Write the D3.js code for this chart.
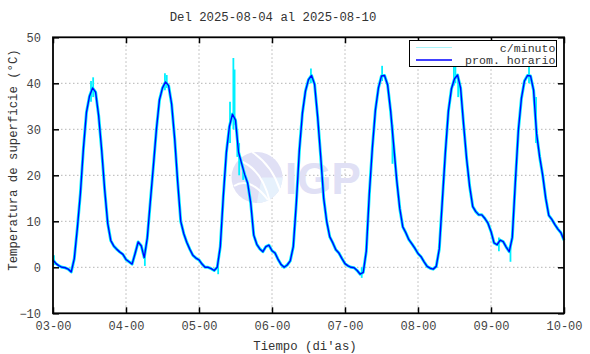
<!DOCTYPE html>
<html>
<head>
<meta charset="utf-8">
<script src="https://cdn.jsdelivr.net/npm/d3@7"></script>
<style>
  body { margin: 0; background: #fff; }
  text { font-family: "Liberation Mono", "DejaVu Sans Mono", monospace; fill: #333; }
</style>
</head>
<body>
<svg id="chart" width="590" height="354"></svg>
<script>
// etiquetas de los dias (eje x), una cada 24 horas
const diasEtiquetas = ["03-00", "04-00", "05-00", "06-00", "07-00", "08-00", "09-00", "10-00"]
const yTicks = [-10, 0, 10, 20, 30, 40, 50]

// promedio horario de temperatura (°C), hora 0 = 03-00
const promHorario = [
  1.6, 0.8, 0.3, 0.0, -0.1, -0.4, -1.0, 1.9, 8.5, 16, 25.8, 33.7, 37.2, 39, 38.1, 33, 25.5, 16.8, 9.5, 5.8, 4.6, 3.9, 3.3, 2.8,
  1.7, 1.2, 0.7, 3.0, 5.5, 4.7, 2.1, 6.4, 14.3, 22, 30, 36.4, 39, 40.3, 39.5, 35.5, 28, 18.5, 10, 7.3, 5.4, 3.9, 2.6, 2.0,
  1.6, 0.7, 0.0, 0.0, -0.3, -0.7, 0.0, 4.5, 15.5, 25, 30.6, 33.3, 32, 25, 22.6, 20.2, 18.3, 14, 7, 5, 4, 3.4, 4.5, 4.8,
  3.6, 3.1, 1.7, 0.6, 0.0, 0.5, 1.4, 4.5, 14, 25.5, 33.5, 38.3, 40.8, 41.7, 39.8, 32.8, 24.2, 15, 9.9, 6.6, 5.3, 3.8, 3.1, 1.9,
  0.8, 0.3, 0.0, -0.1, -0.7, -1.5, -1.1, 3.5, 16, 26, 34.2, 39, 41.6, 41.7, 39.7, 34, 26.5, 19, 12.8, 8.8, 7.5, 6, 5.1, 4.1,
  3.0, 2.3, 1.2, 0.2, -0.2, -0.4, 0.2, 4, 14.5, 25, 34, 38.8, 41, 41.8, 39, 31, 23.5, 17.5, 13.2, 12.1, 11.4, 11.4, 10.6, 9.6,
  7.8, 5.3, 4.9, 5.9, 5.6, 4.4, 3.4, 6.5, 18.5, 29.8, 36.7, 40.5, 41.7, 41.6, 38.5, 29, 24, 20, 15, 11.3, 10.4, 9.3, 8.3, 7.5,
  5.9
]

// excursiones de los datos c/minuto: [hora, minimo, maximo]
const minutoPicos = [
  [0.3, 0.5, 2.6], [12.5, 36, 40.5], [13.2, 37, 41.3], [30.2, 0.3, 3], [36.8, 38.5, 42.2], [37.4, 39, 41.8],
  [54.3, -1.5, 1], [58.2, 27, 36], [59.3, 30, 45.5], [59.7, 31, 43], [60.6, 24, 30], [61.2, 20, 27],
  [62.5, 19, 22], [84.8, 40, 43.2], [101.5, -2.3, 0], [108.2, 40.5, 43.8], [111.6, 22.5, 31],
  [131.8, 39.5, 43.8], [132.3, 40, 44.5], [133.2, 37, 42], [146.6, 3.5, 6.5], [150.4, 1.2, 4.5],
  [156.5, 40, 44.5], [158.8, 27, 37]
]

const svg = d3.select("#chart")
const pLeft = 53, pRight = 564, pTop = 37.3, pBottom = 313.3

const x = d3.scaleLinear().domain([0, 168]).range([pLeft, pRight])
const y = d3.scaleLinear().domain([-10, 50]).range([pBottom, pTop])
const dayTicks = diasEtiquetas.map((d, i) => i * 24)

// grid punteado
svg.append("g").selectAll("line")
  .data(dayTicks.slice(1, -1))
  .enter().append("line")
    .attr("x1", d => x(d)).attr("x2", d => x(d))
    .attr("y1", pTop).attr("y2", pBottom)
    .attr("stroke", "#b4b4b4").attr("stroke-dasharray", "1.5,2.5")
svg.append("g").selectAll("line")
  .data(yTicks.slice(1, -1))
  .enter().append("line")
    .attr("x1", pLeft).attr("x2", pRight)
    .attr("y1", d => y(d)).attr("y2", d => y(d))
    .attr("stroke", "#b4b4b4").attr("stroke-dasharray", "1.5,2.5")

// marca de agua IGP
const wm = svg.append("g")
wm.append("circle").attr("cx", 257).attr("cy", 177.5).attr("r", 25.5).attr("fill", "#e0e0f5")
wm.append("path")
  .attr("d", "M257,203 A25.5,25.5 0 0 0 282.5,177.5 L262,177.5 Q258,195 257,203 Z")
  .attr("fill", "#e6f1fc")
wm.append("path").attr("d", "M234,186 Q250,176 268,200").attr("stroke", "#fff").attr("stroke-width", 2).attr("fill", "none")
wm.append("path").attr("d", "M238,160 Q262,168 270,202").attr("stroke", "#fff").attr("stroke-width", 2).attr("fill", "none")
wm.append("path").attr("d", "M252,152 Q272,165 280,190").attr("stroke", "#fff").attr("stroke-width", 2).attr("fill", "none")
wm.append("text").attr("x", 285).attr("y", 193.5)
  .style("font-family", "'Liberation Sans', Arial, sans-serif")
  .style("font-weight", "bold").style("font-size", "44px")
  .style("fill", "#e0e0f5").text("IGP")

// datos c/minuto (cyan) y promedio horario (azul)
const linea = d3.line().x((d, i) => x(i)).y(d => y(d))
svg.append("path")
  .attr("d", linea(promHorario))
  .attr("fill", "none").attr("stroke", "#00f0ff").attr("stroke-width", 3)
  .attr("stroke-linejoin", "round")
svg.append("g").selectAll("line")
  .data(minutoPicos)
  .enter().append("line")
    .attr("x1", d => x(d[0])).attr("x2", d => x(d[0]))
    .attr("y1", d => y(d[1])).attr("y2", d => y(d[2]))
    .attr("stroke", "#00f0ff").attr("stroke-width", 1.8)
svg.append("path")
  .attr("d", linea(promHorario))
  .attr("fill", "none").attr("stroke", "#0000ff").attr("stroke-width", 1.4)
  .attr("stroke-linejoin", "round")

// ejes
svg.append("g").attr("transform", "translate(0," + pBottom + ")")
  .call(d3.axisBottom(x).tickValues(dayTicks).tickSize(-6).tickPadding(8).tickFormat((d, i) => diasEtiquetas[i]))
svg.append("g").attr("transform", "translate(0," + pTop + ")")
  .call(d3.axisTop(x).tickValues(dayTicks).tickSize(-6).tickFormat(""))
svg.append("g").attr("transform", "translate(" + pLeft + ",0)")
  .call(d3.axisLeft(y).tickValues(yTicks).tickSize(-6).tickPadding(12))
svg.append("g").attr("transform", "translate(" + pRight + ",0)")
  .call(d3.axisRight(y).tickValues(yTicks).tickSize(-6).tickFormat(""))
svg.selectAll(".domain").remove()
svg.selectAll(".tick line").attr("stroke", "#000").attr("stroke-width", 1.5)
svg.selectAll(".tick text").style("font-size", "12px").style("font-family", "'Liberation Mono', monospace").style("fill", "#444")

// marco
svg.append("rect")
  .attr("x", pLeft).attr("y", pTop).attr("width", pRight - pLeft).attr("height", pBottom - pTop)
  .attr("fill", "none").attr("stroke", "#000").attr("stroke-width", 1.8)

// titulos
svg.append("text").attr("x", 273).attr("y", 21).attr("text-anchor", "middle")
  .style("font-size", "12.3px").text("Del 2025-08-04 al 2025-08-10")
svg.append("text").attr("x", 305).attr("y", 350).attr("text-anchor", "middle")
  .style("font-size", "12.3px").text("Tiempo (di'as)")
svg.append("text").attr("transform", "translate(17,160) rotate(-90)").attr("text-anchor", "middle")
  .style("font-size", "12.3px").text("Temperatura de superficie (°C)")

// leyenda
const leg = svg.append("g")
leg.append("rect").attr("x", 409.5).attr("y", 40.5).attr("width", 147).attr("height", 26)
  .attr("fill", "#fff").attr("stroke", "#000").attr("stroke-width", 1)
const legItems = [["c/minuto", "#a8f4fa"], ["prom. horario", "#0000ff"]]
legItems.forEach((it, i) => {
  leg.append("line").attr("x1", 416).attr("x2", 452)
    .attr("y1", 47.5 + i * 12.5).attr("y2", 47.5 + i * 12.5)
    .attr("stroke", it[1]).attr("stroke-width", i === 0 ? 1 : 1.3)
  leg.append("text").attr("x", 555.5).attr("y", 51.5 + i * 12.5).attr("text-anchor", "end")
    .style("font-size", "11.6px").text(it[0])
})
</script>
</body>
</html>
